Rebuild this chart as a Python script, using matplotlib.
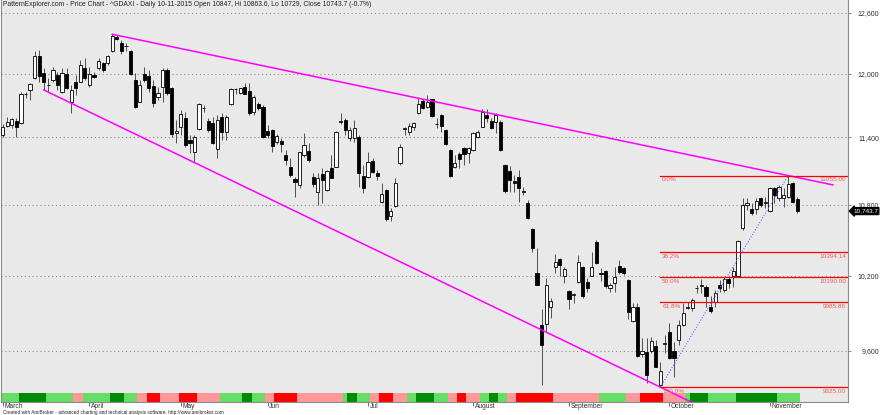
import numpy as np
import matplotlib
matplotlib.use("Agg")
import matplotlib.pyplot as plt
import matplotlib.transforms as mtransforms
from matplotlib.patches import Rectangle
from matplotlib.ticker import NullLocator

plt.rcParams['font.family'] = ['Liberation Sans', 'DejaVu Sans']

# daily OHLC, ^GDAXI, 5 Mar - 10 Nov 2015 (one row per trading day)
opens = [11421, 11507, 11514, 11553, 11530, 11800, 11843, 11958, 12168, 12003,
         11893, 11939, 11987, 11827, 11993, 11732, 11917, 11923, 12051, 11891,
         11987, 12051, 12102, 12102, 12220, 12362, 12296, 12268, 12220, 11939,
         11732, 11993, 11980, 11884, 11780, 11875, 12035, 11865, 11437, 11499,
         11576, 11375, 11263, 11476, 11670, 11553, 11530, 11293, 11592, 11452,
         11707, 11848, 11811, 11875, 11833, 11638, 11707, 11685, 11458, 11467,
         11354, 11366, 11239, 11127, 11022, 10972, 11239, 11275, 11045, 10913,
         11068, 10928, 11120, 11135, 11542, 11560, 11397, 11390, 11400, 11051,
         11045, 11185, 11075, 10820, 10928, 10704, 10787, 11165, 11480, 11452,
         11498, 11623, 11742, 11678, 11754, 11520, 11607, 11467, 11284, 11129,
         11248, 11300, 11260, 11284, 11406, 11499, 11607, 11553, 11545, 11545,
         11150, 11092, 11007, 11039, 10910, 10810, 10587, 10225, 9803, 9811,
         9949, 10270, 10335, 10200, 10071, 10045, 10151, 10275, 10151, 10198,
         10483, 10220, 10241, 10097, 10143, 10281, 10261, 10168, 9833, 9949,
         9577, 9594, 9603, 9640, 9342, 9655, 9751, 9600, 9686, 9803,
         9940, 9937, 10095, 10115, 10105, 9949, 9988, 10124, 10083, 10171,
         10198, 10198, 10596, 10796, 10759, 10759, 10855, 10810, 10747, 10943,
         10855, 10855, 10870, 10987, 10847]
highs = [11523, 11592, 11579, 11579, 11824, 11827, 11907, 12217, 12230, 12051,
         11955, 12067, 12019, 12051, 12051, 11891, 11987, 12132, 12149, 12067,
         12019, 12149, 12116, 12178, 12386, 12379, 12329, 12296, 12230, 12003,
         11939, 12067, 12035, 11939, 11875, 12051, 12051, 11875, 11560, 11654,
         11638, 11421, 11421, 11715, 11701, 11576, 11592, 11607, 11623, 11607,
         11865, 11865, 11865, 11907, 11907, 11795, 11732, 11701, 11514, 11475,
         11428, 11391, 11284, 11209, 11045, 11270, 11437, 11345, 11075, 11075,
         11120, 11105, 11239, 11458, 11623, 11583, 11498, 11560, 11421, 11150,
         11270, 11209, 11105, 10987, 10934, 10767, 11030, 11339, 11498, 11530,
         11545, 11764, 11754, 11795, 11760, 11576, 11613, 11475, 11291, 11239,
         11270, 11314, 11314, 11452, 11467, 11660, 11660, 11576, 11623, 11560,
         11160, 11141, 11060, 11105, 10957, 10840, 10596, 10427, 9928, 10179,
         10016, 10379, 10343, 10275, 10083, 10062, 10371, 10280, 10179, 10393,
         10497, 10261, 10247, 10138, 10275, 10329, 10267, 10176, 9980, 9980,
         9699, 9699, 9712, 9686, 9518, 9725, 9817, 9673, 9843, 9975,
         9988, 10016, 10124, 10170, 10124, 10035, 10083, 10165, 10192, 10187,
         10275, 10500, 10855, 10855, 10810, 10855, 10870, 10865, 10957, 10957,
         10972, 10943, 11055, 11002, 10863.6]
lows = [11403, 11498, 11486, 11400, 11523, 11770, 11748, 11950, 11923, 11843,
        11827, 11923, 11843, 11811, 11852, 11623, 11795, 11915, 11939, 11875,
        11955, 12035, 12019, 12083, 12210, 12329, 12188, 12220, 11985, 11670,
        11726, 11923, 11827, 11685, 11748, 11732, 11795, 11406, 11345, 11421,
        11314, 11254, 11179, 11470, 11632, 11452, 11336, 11214, 11375, 11375,
        11700, 11802, 11802, 11800, 11607, 11607, 11654, 11397, 11397, 11270,
        11336, 11270, 11150, 11045, 10870, 10943, 11224, 11179, 10957, 10796,
        10810, 10920, 11030, 11130, 11520, 11421, 11366, 11360, 10957, 10898,
        11030, 11075, 11016, 10810, 10661, 10654, 10781, 11150, 11421, 11421,
        11467, 11616, 11664, 11670, 11592, 11483, 11452, 11330, 11045, 11120,
        11120, 11150, 11170, 11278, 11391, 11492, 11545, 11474, 11437, 11278,
        10898, 10913, 10913, 10825, 10884, 10672, 10399, 10120, 9341, 9751,
        9856, 10220, 10198, 10138, 9928, 9975, 10138, 10020, 10070, 10193,
        10296, 10160, 10097, 10070, 10070, 10214, 10206, 9849, 9825, 9557,
        9557, 9354, 9587, 9475, 9325, 9587, 9535, 9404, 9647, 9795,
        9928, 9911, 10057, 10060, 9949, 9895, 9949, 10070, 10070, 10097,
        10105, 10190, 10581, 10753, 10710, 10718, 10779, 10770, 10739, 10810,
        10830, 10779, 10855, 10810, 10729]
closes = [11495, 11545, 11570, 11492, 11802, 11805, 11898, 12168, 11977, 11923,
          11888, 12035, 11891, 12003, 11859, 11843, 11865, 12083, 11955, 11993,
          11971, 12122, 12035, 12168, 12372, 12339, 12220, 12272, 11993, 11685,
          11891, 11939, 11859, 11717, 11811, 12035, 11811, 11428, 11458, 11613,
          11330, 11345, 11406, 11707, 11675, 11467, 11345, 11560, 11448, 11592,
          11852, 11855, 11859, 11805, 11623, 11780, 11675, 11406, 11421, 11322,
          11412, 11336, 11194, 11060, 10995, 11263, 11330, 11194, 10978, 11036,
          11016, 11096, 11036, 11452, 11548, 11467, 11467, 11490, 11075, 10943,
          11179, 11090, 11051, 10890, 10673, 10744, 10987, 11314, 11486, 11507,
          11535, 11710, 11670, 11732, 11598, 11526, 11505, 11339, 11051, 11170,
          11203, 11248, 11300, 11443, 11452, 11638, 11576, 11483, 11607, 11284,
          10920, 11012, 10987, 10943, 10916, 10681, 10427, 10124, 9647, 10124,
          9994, 10315, 10288, 10253, 10010, 10050, 10315, 10035, 10097, 10271,
          10302, 10215, 10117, 10124, 10187, 10226, 10220, 9903, 9945, 9563,
          9600, 9417, 9681, 9480, 9445, 9660, 9544, 9544, 9803, 9895,
          9946, 10002, 10101, 10124, 10032, 9916, 10057, 10102, 10171, 10143,
          10234, 10491, 10796, 10810, 10724, 10834, 10796, 10825, 10943, 10884,
          10957, 10884, 10981, 10819, 10743.7]

# bar colour strip at the bottom: G dark green, g light green, p pink, r red
ribbon = ("gggg" "GGGGGG" "gggggg" "pp" "gggggg" "GGG" "ggg" "pp" "rrr" "pppp"
          "rrrr" "ppppp" "ggggg" "GG" "ggg" "pp" "rrrrr" "pppppppppp" "g" "GG"
          "ggg" "pp" "rrr" "ppp" "gg" "GGGG" "ggg" "pp" "rr" "ppp" "gg" "GG" "gg"
          "pp" "rrrrrrrr" "pppppppppp" "gggggg" "ppp" "rrrrr" "ppppp" "g" "GGGG"
          "gggggg" "GGGGGGGGG" "ggggg")
ribbon_colors = {'G': '#008c00', 'g': '#66dd66', 'p': '#ff9999', 'r': '#ff0000'}

month_idx = [0, 19, 39, 58, 80, 103, 124, 146, 168]
month_names = ['March', 'April', 'May', 'Jun', 'Jul', 'August', 'September',
               'October', 'November']

price_ticks = [9600, 10200, 10800, 11400, 12000, 12600]

# trend lines: (bar index, price) anchors
upper_line = [(24, 12386), (172, 11055)]
lower_line = [(9, 11843), (144, 9325)]

fib_start = 144
fib_names = ['0.0%', '38.2%', '50.0%', '61.8%', '100.0%']
fib_levels = [11055.00, 10394.14, 10190.00, 9985.86, 9325.00]
swing = [(144, 9325.0), (172, 11055.0)]

title = ("PatternExplorer.com - Price Chart - ^GDAXI - Daily 10-11-2015 Open 10847, "
         "Hi 10863.6, Lo 10729, Close 10743.7 (-0.7%)")
footer = ("Created with AmiBroker - advanced charting and technical analysis software. "
          "http://www.amibroker.com")

W, H = 880, 415
fig = plt.figure(figsize=(W / 100, H / 100), dpi=100)
fig.patch.set_facecolor('white')
ax = fig.add_axes([1 / W, 13 / H, 847 / W, 402 / H])
ax.set_facecolor('#e9e9e9')

idx = np.arange(len(closes))
o = np.array(opens, float)
h = np.array(highs, float)
l = np.array(lows, float)
c = np.array(closes, float)
up = c >= o

ax.set_yscale('log')
ax.set_ylim(9214, 12732)
xmax = 185.1
ax.set_xlim(-0.37, xmax)

# gridlines
ax.yaxis.set_minor_locator(NullLocator())
ax.set_yticks(price_ticks)
ax.set_yticklabels([f"{p:,}" for p in price_ticks])
ax.grid(axis='y', which='major', ls=(0, (1, 2.5)), color='#8c8c8c', lw=0.8)
ax.set_axisbelow(True)

# colour strip
trans = ax.get_xaxis_transform()
for i, code in enumerate(ribbon):
    ax.add_patch(Rectangle((i - 0.5, 0.0), 1.0, 0.0215, transform=trans,
                           facecolor=ribbon_colors[code], lw=0, zorder=1))

# candles
ax.vlines(idx, l, h, color='#505050', lw=0.7, zorder=2)
bottoms = np.minimum(o, c)
heights = np.maximum(np.abs(c - o), 1.0)
ax.bar(idx, heights, bottom=bottoms, width=0.7,
       color=np.where(up, 'white', 'black'), edgecolor='black', lw=0.6, zorder=3)

# trend lines, extended in log space
def extend(anchors, x_end):
    (x1, p1), (x2, p2) = anchors
    slope = (np.log(p2) - np.log(p1)) / (x2 - x1)
    xs = np.array([x1, x_end])
    return xs, np.exp(np.log(p1) + slope * (xs - x1))

xs, ys = extend(upper_line, 181.8)
ax.plot(xs, ys, color='#ff00ff', lw=1.1, zorder=4)
xs, ys = extend(lower_line, 154)
ax.plot(xs, ys, color='#ff00ff', lw=1.1, zorder=4)

# fibonacci retracement
ax.plot([s[0] for s in swing], [s[1] for s in swing], color='#6a6aff', lw=0.8,
        ls=(0, (1, 1.5)), zorder=4)
for name, lev in zip(fib_names, fib_levels):
    ax.plot([fib_start, xmax], [lev, lev], color='#ff0000', lw=0.9, zorder=4)
    ax.text(fib_start + 0.4, lev * 0.9985, name, ha='left', va='top',
            fontsize=4.6, color='#f05a5a', zorder=5)
    ax.text(xmax - 0.4, lev * 0.9985, f"{lev:.2f}", ha='right', va='top',
            fontsize=4.6, color='#f05a5a', zorder=5)

# axes styling
for side in ['left', 'bottom', 'right']:
    ax.spines[side].set_color('#8a8a8a')
    ax.spines[side].set_linewidth(0.8)
ax.spines['top'].set_visible(False)

ax.tick_params(axis='y', which='major', left=False, labelleft=False, right=True,
               labelright=True, length=2.5, width=0.6, color='#777777', pad=20,
               labelsize=5, labelcolor='#333333')
for t in ax.get_yticklabels():
    t.set_horizontalalignment('right')

ax.set_xticks(month_idx)
ax.set_xticklabels(month_names)
ax.tick_params(axis='x', direction='out', length=3, width=0.6, color='#555555',
               pad=-2.0, labelsize=4.8, labelcolor='#333333')
shift = mtransforms.ScaledTranslation(1.5 / 100, 0, fig.dpi_scale_trans)
for t in ax.get_xticklabels():
    t.set_horizontalalignment('left')
    t.set_transform(t.get_transform() + shift)

# last price marker
last = closes[-1]
ax.text(1.0 + 5 / 847, last, f"{last:,.1f}", transform=ax.get_yaxis_transform(),
        ha='left', va='center', fontsize=4.6, color='white', clip_on=False,
        bbox=dict(boxstyle='larrow,pad=0.15', fc='black', ec='black'))

ax.text(0.002, 1 - 1 / 402, title, transform=ax.transAxes, ha='left', va='top',
        fontsize=4.85, color='#222222')
fig.text(3 / W, 0.5 / H, footer, ha='left', va='bottom', fontsize=3.4, color='#222222')

fig.savefig('out.png', dpi=100, facecolor=fig.get_facecolor())
